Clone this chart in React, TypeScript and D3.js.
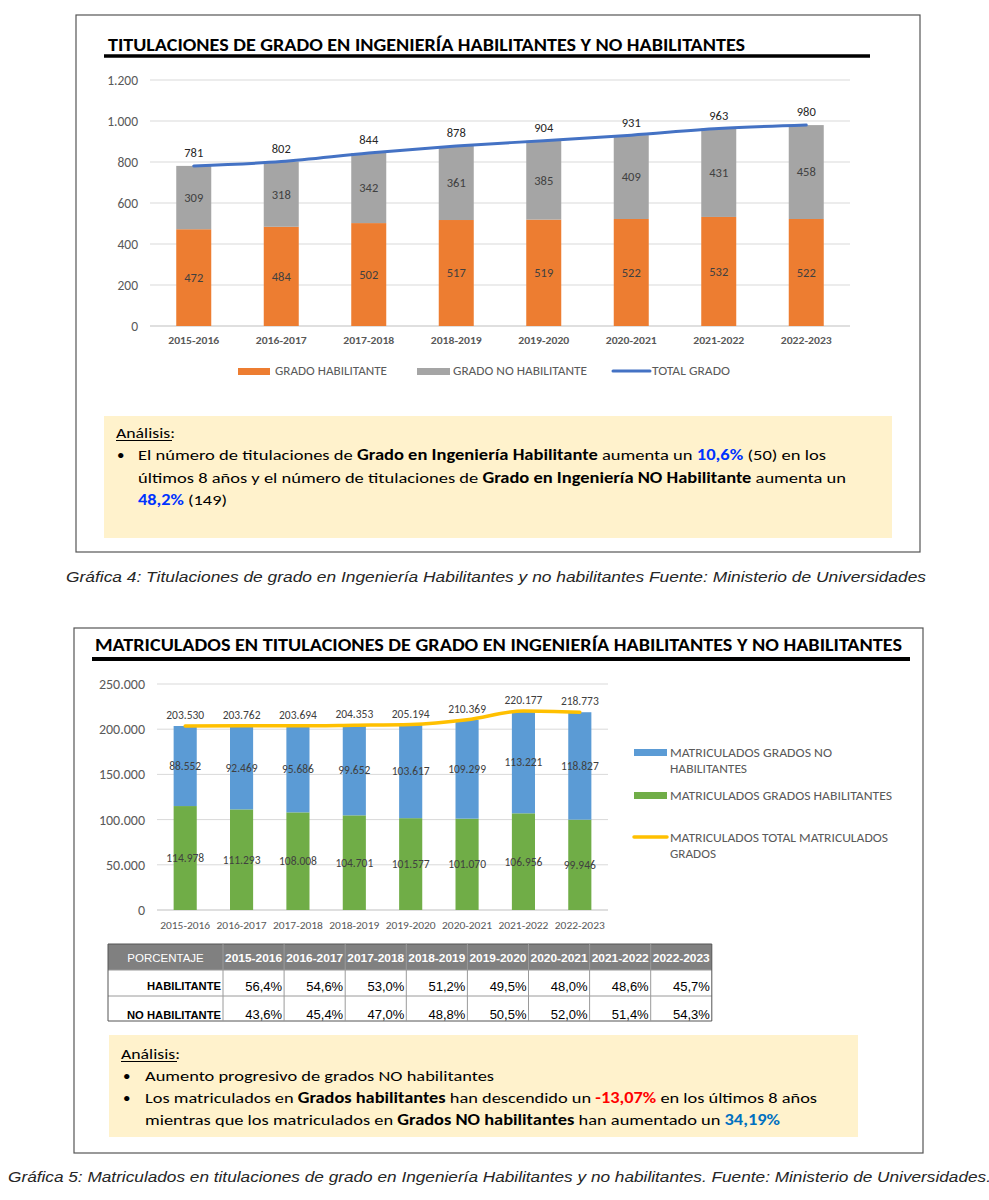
import React, { useRef, useEffect } from 'react';
import * as d3 from 'd3';

// Datos
const years = ['2015-2016', '2016-2017', '2017-2018', '2018-2019', '2019-2020', '2020-2021', '2021-2022', '2022-2023'];
const gradoHab = [472, 484, 502, 517, 519, 522, 532, 522];
const gradoNoHab = [309, 318, 342, 361, 385, 409, 431, 458];
const gradoTotal = [781, 802, 844, 878, 904, 931, 963, 980];
const topTicks = [0, 200, 400, 600, 800, 1000, 1200];

const matHab = [114978, 111293, 108008, 104701, 101577, 101070, 106956, 99946];
const matNoHab = [88552, 92469, 95686, 99652, 103617, 109299, 113221, 118827];
const matTotal = [203530, 203762, 203694, 204353, 205194, 210369, 220177, 218773];
const bottomTicks = [0, 50000, 100000, 150000, 200000, 250000];

const pctHab = ['56,4%', '54,6%', '53,0%', '51,2%', '49,5%', '48,0%', '48,6%', '45,7%'];
const pctNoHab = ['43,6%', '45,4%', '47,0%', '48,8%', '50,5%', '52,0%', '51,4%', '54,3%'];

const CAL = "Carlito, Calibri, Lato, 'Open Sans', sans-serif";
const ARIAL = "'Liberation Sans', Arial, sans-serif";
const GREY_TXT = '#595959';

const es = d3.formatLocale({ decimal: ',', thousands: '.', grouping: [3], currency: ['', '€'] });
const fmt = es.format(',d');

type Part = { t: string; bold?: boolean; color?: string };

const App: React.FC = () => {
	const svgRef = useRef<SVGSVGElement | null>(null);

	useEffect(() => {
		if (!svgRef.current) return;
		const svg = d3.select(svgRef.current);
		svg.selectAll('*').remove();

		svg.append('rect').attr('width', 989).attr('height', 1200).attr('fill', '#fff');

		// helper: línea de texto con partes en negrita / color
		const richLine = (x: number, y: number, parts: Part[], len?: number, size = 15) => {
			const t = svg.append('text')
				.attr('x', x).attr('y', y)
				.attr('font-family', CAL).attr('font-size', size).attr('fill', '#000');
			parts.forEach(p => {
				t.append('tspan')
					.attr('font-weight', p.bold ? 'bold' : 'normal')
					.attr('fill', p.color || '#000')
					.text(p.t);
			});
			if (len) t.attr('textLength', len).attr('lengthAdjust', 'spacingAndGlyphs');
			return t;
		};

		const plainText = (x: number, y: number, s: string, opts: any = {}) => {
			const t = svg.append('text')
				.attr('x', x).attr('y', y)
				.attr('font-family', opts.family || CAL)
				.attr('font-size', opts.size || 11)
				.attr('font-weight', opts.bold ? 'bold' : 'normal')
				.attr('font-style', opts.italic ? 'italic' : 'normal')
				.attr('fill', opts.color || GREY_TXT)
				.attr('text-anchor', opts.anchor || 'start')
				.attr('dominant-baseline', opts.baseline || 'auto')
				.text(s);
			if (opts.len) t.attr('textLength', opts.len).attr('lengthAdjust', 'spacingAndGlyphs');
			return t;
		};

		// ================= GRÁFICA 4 =================
		svg.append('rect').attr('x', 76).attr('y', 15).attr('width', 844).attr('height', 537)
			.attr('fill', 'none').attr('stroke', '#555').attr('stroke-width', 1.2);

		plainText(108, 51, 'TITULACIONES DE GRADO EN INGENIERÍA HABILITANTES Y NO HABILITANTES',
			{ size: 18, bold: true, color: '#000', len: 637 });
		svg.append('line').attr('x1', 104).attr('x2', 870).attr('y1', 56).attr('y2', 56)
			.attr('stroke', '#000').attr('stroke-width', 3.5);

		const x1 = d3.scaleBand().domain(years).range([150, 850]).paddingInner(0.6).paddingOuter(0.3);
		const y1 = d3.scaleLinear().domain([0, 1200]).range([326, 80]);

		const g1 = svg.append('g');
		g1.selectAll('line.grid').data(topTicks).join('line')
			.attr('x1', 150).attr('x2', 850)
			.attr('y1', d => y1(d)).attr('y2', d => y1(d))
			.attr('stroke', d => d === 0 ? '#bfbfbf' : '#d9d9d9').attr('stroke-width', 1);
		g1.selectAll('text.ytick').data(topTicks).join('text')
			.attr('x', 138).attr('y', d => y1(d)).attr('dy', '0.35em')
			.attr('text-anchor', 'end').attr('font-family', CAL).attr('font-size', 13.5)
			.attr('fill', GREY_TXT)
			.text(d => fmt(d));

		// barras apiladas
		g1.selectAll('rect.hab').data(years).join('rect')
			.attr('x', d => x1(d)!).attr('width', x1.bandwidth())
			.attr('y', (d, i) => y1(gradoHab[i])).attr('height', (d, i) => y1(0) - y1(gradoHab[i]))
			.attr('fill', '#ED7D31');
		g1.selectAll('rect.nohab').data(years).join('rect')
			.attr('x', d => x1(d)!).attr('width', x1.bandwidth())
			.attr('y', (d, i) => y1(gradoHab[i] + gradoNoHab[i]))
			.attr('height', (d, i) => y1(gradoHab[i]) - y1(gradoHab[i] + gradoNoHab[i]))
			.attr('fill', '#A5A5A5');

		const cx1 = (d: string) => x1(d)! + x1.bandwidth() / 2;

		const line1 = d3.line<number>()
			.x((d, i) => cx1(years[i]))
			.y(d => y1(d))
			.curve(d3.curveMonotoneX);
		g1.append('path').datum(gradoTotal).attr('d', line1)
			.attr('fill', 'none').attr('stroke', '#4472C4').attr('stroke-width', 3).attr('stroke-linecap', 'round');

		// etiquetas
		const lbl = { 'font-family': CAL, 'font-size': 12.5, fill: '#404040', 'text-anchor': 'middle' };
		const applyAttrs = (sel: any, a: any) => { Object.keys(a).forEach(k => sel.attr(k, a[k])); return sel; };
		applyAttrs(g1.selectAll('text.lh').data(years).join('text')
			.attr('x', d => cx1(d)).attr('y', (d, i) => (y1(0) + y1(gradoHab[i])) / 2).attr('dy', '0.35em')
			.text((d, i) => fmt(gradoHab[i])), lbl);
		applyAttrs(g1.selectAll('text.ln').data(years).join('text')
			.attr('x', d => cx1(d)).attr('y', (d, i) => (y1(gradoHab[i]) + y1(gradoHab[i] + gradoNoHab[i])) / 2).attr('dy', '0.35em')
			.text((d, i) => fmt(gradoNoHab[i])), lbl);
		applyAttrs(g1.selectAll('text.lt').data(years).join('text')
			.attr('x', d => cx1(d)).attr('y', (d, i) => y1(gradoTotal[i]) - 13).attr('dy', '0.35em')
			.text((d, i) => fmt(gradoTotal[i])), { ...lbl, fill: '#262626' });

		g1.selectAll('text.xl').data(years).join('text')
			.attr('x', d => cx1(d)).attr('y', 340).attr('dy', '0.35em')
			.attr('text-anchor', 'middle').attr('font-family', CAL).attr('font-size', 10.5)
			.attr('font-weight', 'bold').attr('fill', GREY_TXT)
			.attr('textLength', 51).attr('lengthAdjust', 'spacingAndGlyphs')
			.text(d => d);

		// leyenda
		svg.append('rect').attr('x', 238).attr('y', 368).attr('width', 32).attr('height', 7).attr('fill', '#ED7D31');
		plainText(275, 371, 'GRADO HABILITANTE', { size: 11.5, baseline: 'central', len: 112 });
		svg.append('rect').attr('x', 417).attr('y', 368).attr('width', 33).attr('height', 7).attr('fill', '#A5A5A5');
		plainText(453, 371, 'GRADO NO HABILITANTE', { size: 11.5, baseline: 'central', len: 134 });
		svg.append('line').attr('x1', 613).attr('x2', 650).attr('y1', 371).attr('y2', 371)
			.attr('stroke', '#4472C4').attr('stroke-width', 3).attr('stroke-linecap', 'round');
		plainText(652, 371, 'TOTAL GRADO', { size: 11.5, baseline: 'central', len: 78 });

		// análisis
		svg.append('rect').attr('x', 104).attr('y', 416).attr('width', 788).attr('height', 122).attr('fill', '#FFF2CC');
		richLine(116, 438, [{ t: 'Análisis:' }], 59);
		svg.append('line').attr('x1', 116).attr('x2', 172).attr('y1', 440.5).attr('y2', 440.5).attr('stroke', '#000').attr('stroke-width', 1);
		richLine(117, 460, [{ t: '•' }]);
		richLine(138, 460, [
			{ t: 'El número de titulaciones de ' }, { t: 'Grado en Ingeniería Habilitante', bold: true },
			{ t: ' aumenta un ' }, { t: '10,6%', bold: true, color: '#0033FF' }, { t: ' (50) en los' }], 688);
		richLine(138, 483, [
			{ t: 'últimos 8 años y el número de titulaciones de ' }, { t: 'Grado en Ingeniería NO Habilitante', bold: true },
			{ t: ' aumenta un' }], 708);
		richLine(138, 505, [{ t: '48,2%', bold: true, color: '#0033FF' }, { t: ' (149)' }], 89);

		plainText(66, 582, 'Gráfica 4: Titulaciones de grado en Ingeniería Habilitantes y no habilitantes Fuente: Ministerio de Universidades',
			{ family: ARIAL, size: 14.5, italic: true, color: '#262626', len: 860 });

		// ================= GRÁFICA 5 =================
		svg.append('rect').attr('x', 74).attr('y', 628).attr('width', 849).attr('height', 525)
			.attr('fill', 'none').attr('stroke', '#555').attr('stroke-width', 1.2);
		plainText(95, 651, 'MATRICULADOS EN TITULACIONES DE GRADO EN INGENIERÍA HABILITANTES Y NO HABILITANTES',
			{ size: 19, bold: true, color: '#000', len: 807 });
		svg.append('line').attr('x1', 92).attr('x2', 910).attr('y1', 659).attr('y2', 659)
			.attr('stroke', '#000').attr('stroke-width', 4);

		const x2 = d3.scaleBand().domain(years).range([157, 608]).paddingInner(0.59).paddingOuter(0.295);
		const y2 = d3.scaleLinear().domain([0, 250000]).range([910, 684]);
		const cx2 = (d: string) => x2(d)! + x2.bandwidth() / 2;

		const g2 = svg.append('g');
		g2.selectAll('line.grid').data(bottomTicks).join('line')
			.attr('x1', 157).attr('x2', 608)
			.attr('y1', d => y2(d)).attr('y2', d => y2(d))
			.attr('stroke', d => d === 0 ? '#bfbfbf' : '#d9d9d9').attr('stroke-width', 1);
		g2.selectAll('text.ytick').data(bottomTicks).join('text')
			.attr('x', 145).attr('y', d => y2(d)).attr('dy', '0.35em')
			.attr('text-anchor', 'end').attr('font-family', CAL).attr('font-size', 14)
			.attr('fill', GREY_TXT)
			.text(d => fmt(d));

		g2.selectAll('rect.hab').data(years).join('rect')
			.attr('x', d => x2(d)!).attr('width', x2.bandwidth())
			.attr('y', (d, i) => y2(matHab[i])).attr('height', (d, i) => y2(0) - y2(matHab[i]))
			.attr('fill', '#70AD47');
		g2.selectAll('rect.nohab').data(years).join('rect')
			.attr('x', d => x2(d)!).attr('width', x2.bandwidth())
			.attr('y', (d, i) => y2(matHab[i] + matNoHab[i]))
			.attr('height', (d, i) => y2(matHab[i]) - y2(matHab[i] + matNoHab[i]))
			.attr('fill', '#5B9BD5');

		const line2 = d3.line<number>()
			.x((d, i) => cx2(years[i]))
			.y(d => y2(d))
			.curve(d3.curveMonotoneX);
		g2.append('path').datum(matTotal).attr('d', line2)
			.attr('fill', 'none').attr('stroke', '#FFC000').attr('stroke-width', 3.5).attr('stroke-linecap', 'round');

		const lbl2 = { 'font-family': CAL, 'font-size': 11.5, fill: '#404040', 'text-anchor': 'middle' };
		applyAttrs(g2.selectAll('text.lh').data(years).join('text')
			.attr('x', d => cx2(d)).attr('y', (d, i) => (y2(0) + y2(matHab[i])) / 2).attr('dy', '0.35em')
			.text((d, i) => fmt(matHab[i])), lbl2);
		applyAttrs(g2.selectAll('text.ln').data(years).join('text')
			.attr('x', d => cx2(d)).attr('y', (d, i) => (y2(matHab[i]) + y2(matHab[i] + matNoHab[i])) / 2).attr('dy', '0.35em')
			.text((d, i) => fmt(matNoHab[i])), lbl2);
		applyAttrs(g2.selectAll('text.lt').data(years).join('text')
			.attr('x', d => cx2(d)).attr('y', (d, i) => y2(matTotal[i]) - 11).attr('dy', '0.35em')
			.text((d, i) => fmt(matTotal[i])), lbl2);

		g2.selectAll('text.xl').data(years).join('text')
			.attr('x', d => cx2(d)).attr('y', 925).attr('dy', '0.35em')
			.attr('text-anchor', 'middle').attr('font-family', CAL).attr('font-size', 10.5)
			.attr('fill', GREY_TXT)
			.attr('textLength', 50).attr('lengthAdjust', 'spacingAndGlyphs')
			.text(d => d);

		// leyenda
		svg.append('rect').attr('x', 634).attr('y', 749).attr('width', 33).attr('height', 7).attr('fill', '#5B9BD5');
		plainText(670, 753, 'MATRICULADOS GRADOS  NO', { size: 11.5, baseline: 'central', len: 162 });
		plainText(670, 769, 'HABILITANTES', { size: 11.5, baseline: 'central', len: 77 });
		svg.append('rect').attr('x', 634).attr('y', 792).attr('width', 33).attr('height', 7).attr('fill', '#70AD47');
		plainText(670, 796, 'MATRICULADOS GRADOS  HABILITANTES', { size: 11.5, baseline: 'central', len: 222 });
		svg.append('line').attr('x1', 634).attr('x2', 667).attr('y1', 837).attr('y2', 837)
			.attr('stroke', '#FFC000').attr('stroke-width', 3.5).attr('stroke-linecap', 'round');
		plainText(670, 838, 'MATRICULADOS TOTAL MATRICULADOS', { size: 11.5, baseline: 'central', len: 218 });
		plainText(670, 854, 'GRADOS', { size: 11.5, baseline: 'central', len: 46 });

		// tabla de porcentajes
		const tx0 = 108, tFirst = 115, tColW = 61.1;
		const tRows = [944, 970, 996, 1021];
		const tRight = tx0 + tFirst + tColW * 8;
		const tb = svg.append('g');
		tb.append('rect').attr('x', tx0).attr('y', tRows[0]).attr('width', tRight - tx0).attr('height', tRows[1] - tRows[0])
			.attr('fill', '#808080');
		// líneas
		for (let r = 0; r < tRows.length; r++) {
			tb.append('line').attr('x1', tx0).attr('x2', tRight).attr('y1', tRows[r]).attr('y2', tRows[r])
				.attr('stroke', r === 0 || r === 3 ? '#555' : '#9a9a9a').attr('stroke-width', 1);
		}
		for (let c = 0; c <= 9; c++) {
			const xx = c === 0 ? tx0 : tx0 + tFirst + tColW * (c - 1);
			tb.append('line').attr('x1', xx).attr('x2', xx).attr('y1', tRows[0]).attr('y2', tRows[3])
				.attr('stroke', c === 0 || c === 9 ? '#555' : '#9a9a9a').attr('stroke-width', 1);
		}
		plainText(tx0 + tFirst / 2, 962, 'PORCENTAJE', { family: ARIAL, size: 11.5, color: '#fff', anchor: 'middle' });
		years.forEach((yr, i) => {
			const cl = tx0 + tFirst + tColW * i;
			plainText(cl + tColW / 2, 962, yr, { family: ARIAL, size: 11.5, bold: true, color: '#fff', anchor: 'middle', len: 57 });
			plainText(cl + tColW - 2, 991, pctHab[i], { family: ARIAL, size: 13, color: '#000', anchor: 'end' });
			plainText(cl + tColW - 2, 1019, pctNoHab[i], { family: ARIAL, size: 13, color: '#000', anchor: 'end' });
		});
		plainText(tx0 + tFirst - 2, 990, 'HABILITANTE', { family: ARIAL, size: 11, bold: true, color: '#000', anchor: 'end', len: 74 });
		plainText(tx0 + tFirst - 2, 1019, 'NO HABILITANTE', { family: ARIAL, size: 11, bold: true, color: '#000', anchor: 'end', len: 94 });

		// análisis
		svg.append('rect').attr('x', 109).attr('y', 1035).attr('width', 749).attr('height', 102).attr('fill', '#FFF2CC');
		richLine(121, 1059, [{ t: 'Análisis:' }], 59);
		svg.append('line').attr('x1', 121).attr('x2', 177).attr('y1', 1061.5).attr('y2', 1061.5).attr('stroke', '#000').attr('stroke-width', 1);
		richLine(123, 1081, [{ t: '•' }]);
		richLine(145, 1081, [{ t: 'Aumento progresivo de grados NO habilitantes' }], 349);
		richLine(123, 1103, [{ t: '•' }]);
		richLine(145, 1103, [
			{ t: 'Los matriculados en ' }, { t: 'Grados habilitantes', bold: true },
			{ t: ' han descendido un ' }, { t: '-13,07%', bold: true, color: '#FF0000' }, { t: ' en los últimos 8 años' }], 672);
		richLine(145, 1125, [
			{ t: 'mientras que los matriculados en ' }, { t: 'Grados NO habilitantes', bold: true },
			{ t: ' han aumentado un ' }, { t: '34,19%', bold: true, color: '#0070C0' }], 635);

		plainText(8, 1182, 'Gráfica 5: Matriculados en titulaciones de grado en Ingeniería Habilitantes y no habilitantes. Fuente: Ministerio de Universidades.',
			{ family: ARIAL, size: 14.5, italic: true, color: '#262626', len: 983 });

		return () => { svg.selectAll('*').remove(); };
	}, []);

	return (
		<svg ref={svgRef} width={989} height={1200} style={{ position: 'absolute', left: 0, top: 0 }} />
	);
};

export default App;
